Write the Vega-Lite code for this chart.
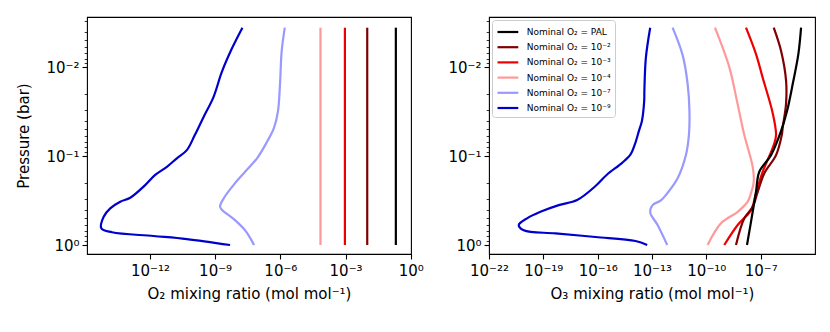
{
  "$schema": "https://vega.github.io/schema/vega-lite/v6.json",
  "background": "white",
  "padding": {"left": 16, "top": 13, "right": 5, "bottom": 5},
  "config": {
    "font": "DejaVu Sans",
    "view": {"stroke": "black", "strokeWidth": 1.1},
    "axis": {
      "domain": false, "grid": false, "tickColor": "black", "tickWidth": 1.1,
      "labelColor": "black", "titleColor": "black", "labelFontSize": 15, "titleFontSize": 15,
      "titleFontWeight": "normal", "labelFont": "DejaVu Sans", "titleFont": "DejaVu Sans",
      "labelOverlap": false, "labelFlush": false
    }
  },
  "datasets": {
    "o2": [
      {"s": "Nominal O₂ = 10⁻⁹", "i": 0, "p": 0.0036, "v": 1.80e-8},
      {"s": "Nominal O₂ = 10⁻⁹", "i": 1, "p": 0.00622, "v": 5.82e-9},
      {"s": "Nominal O₂ = 10⁻⁹", "i": 2, "p": 0.01138, "v": 2.02e-9},
      {"s": "Nominal O₂ = 10⁻⁹", "i": 3, "p": 0.0217, "v": 8.41e-10},
      {"s": "Nominal O₂ = 10⁻⁹", "i": 4, "p": 0.0365, "v": 2.92e-10},
      {"s": "Nominal O₂ = 10⁻⁹", "i": 5, "p": 0.0581, "v": 1.16e-10},
      {"s": "Nominal O₂ = 10⁻⁹", "i": 6, "p": 0.0857, "v": 5.0e-11},
      {"s": "Nominal O₂ = 10⁻⁹", "i": 7, "p": 0.106, "v": 1.74e-11},
      {"s": "Nominal O₂ = 10⁻⁹", "i": 8, "p": 0.132, "v": 6.04e-12},
      {"s": "Nominal O₂ = 10⁻⁹", "i": 9, "p": 0.163, "v": 1.75e-12},
      {"s": "Nominal O₂ = 10⁻⁹", "i": 10, "p": 0.212, "v": 6.08e-13},
      {"s": "Nominal O₂ = 10⁻⁹", "i": 11, "p": 0.294, "v": 1.25e-13},
      {"s": "Nominal O₂ = 10⁻⁹", "i": 12, "p": 0.326, "v": 4.33e-14},
      {"s": "Nominal O₂ = 10⁻⁹", "i": 13, "p": 0.387, "v": 1.50e-14},
      {"s": "Nominal O₂ = 10⁻⁹", "i": 14, "p": 0.481, "v": 7.48e-15},
      {"s": "Nominal O₂ = 10⁻⁹", "i": 15, "p": 0.649, "v": 5.81e-15},
      {"s": "Nominal O₂ = 10⁻⁹", "i": 16, "p": 0.719, "v": 1.80e-14},
      {"s": "Nominal O₂ = 10⁻⁹", "i": 17, "p": 0.792, "v": 1.48e-12},
      {"s": "Nominal O₂ = 10⁻⁹", "i": 18, "p": 0.857, "v": 5.0e-11},
      {"s": "Nominal O₂ = 10⁻⁹", "i": 19, "p": 1.0, "v": 4.86e-9},
      {"s": "Nominal O₂ = 10⁻⁷", "i": 0, "p": 0.0036, "v": 1.6e-6},
      {"s": "Nominal O₂ = 10⁻⁷", "i": 1, "p": 0.00661, "v": 1.15e-6},
      {"s": "Nominal O₂ = 10⁻⁷", "i": 2, "p": 0.01567, "v": 9.62e-7},
      {"s": "Nominal O₂ = 10⁻⁷", "i": 3, "p": 0.0312, "v": 7.78e-7},
      {"s": "Nominal O₂ = 10⁻⁷", "i": 4, "p": 0.0481, "v": 5.09e-7},
      {"s": "Nominal O₂ = 10⁻⁷", "i": 5, "p": 0.0678, "v": 2.54e-7},
      {"s": "Nominal O₂ = 10⁻⁷", "i": 6, "p": 0.1045, "v": 8.81e-8},
      {"s": "Nominal O₂ = 10⁻⁷", "i": 7, "p": 0.1475, "v": 2.56e-8},
      {"s": "Nominal O₂ = 10⁻⁷", "i": 8, "p": 0.208, "v": 7.43e-9},
      {"s": "Nominal O₂ = 10⁻⁷", "i": 9, "p": 0.294, "v": 2.58e-9},
      {"s": "Nominal O₂ = 10⁻⁷", "i": 10, "p": 0.365, "v": 1.69e-9},
      {"s": "Nominal O₂ = 10⁻⁷", "i": 11, "p": 0.397, "v": 1.96e-9},
      {"s": "Nominal O₂ = 10⁻⁷", "i": 12, "p": 0.514, "v": 7.43e-9},
      {"s": "Nominal O₂ = 10⁻⁷", "i": 13, "p": 0.697, "v": 2.56e-8},
      {"s": "Nominal O₂ = 10⁻⁷", "i": 14, "p": 1.0, "v": 6.15e-8},
      {"s": "Nominal O₂ = 10⁻⁴", "i": 0, "p": 0.0036, "v": 7.0e-5},
      {"s": "Nominal O₂ = 10⁻⁴", "i": 1, "p": 1.0, "v": 7.0e-5},
      {"s": "Nominal O₂ = 10⁻³", "i": 0, "p": 0.0036, "v": 9.3e-4},
      {"s": "Nominal O₂ = 10⁻³", "i": 1, "p": 1.0, "v": 9.3e-4},
      {"s": "Nominal O₂ = 10⁻²", "i": 0, "p": 0.0036, "v": 0.0099},
      {"s": "Nominal O₂ = 10⁻²", "i": 1, "p": 1.0, "v": 0.0099},
      {"s": "Nominal O₂ = PAL", "i": 0, "p": 0.0036, "v": 0.205},
      {"s": "Nominal O₂ = PAL", "i": 1, "p": 1.0, "v": 0.205}
    ],
    "o3": [
      {"s": "Nominal O₂ = 10⁻⁹", "i": 0, "p": 0.0036, "v": 7.94e-14},
      {"s": "Nominal O₂ = 10⁻⁹", "i": 1, "p": 0.00782, "v": 4.59e-14},
      {"s": "Nominal O₂ = 10⁻⁹", "i": 2, "p": 0.0186, "v": 3.79e-14},
      {"s": "Nominal O₂ = 10⁻⁹", "i": 3, "p": 0.0241, "v": 3.70e-14},
      {"s": "Nominal O₂ = 10⁻⁹", "i": 4, "p": 0.0405, "v": 2.76e-14},
      {"s": "Nominal O₂ = 10⁻⁹", "i": 5, "p": 0.0524, "v": 1.88e-14},
      {"s": "Nominal O₂ = 10⁻⁹", "i": 6, "p": 0.0740, "v": 1.13e-14},
      {"s": "Nominal O₂ = 10⁻⁹", "i": 7, "p": 0.0957, "v": 6.55e-15},
      {"s": "Nominal O₂ = 10⁻⁹", "i": 8, "p": 0.119, "v": 2.25e-15},
      {"s": "Nominal O₂ = 10⁻⁹", "i": 9, "p": 0.161, "v": 3.33e-16},
      {"s": "Nominal O₂ = 10⁻⁹", "i": 10, "p": 0.217, "v": 7.62e-17},
      {"s": "Nominal O₂ = 10⁻⁹", "i": 11, "p": 0.312, "v": 7.33e-18},
      {"s": "Nominal O₂ = 10⁻⁹", "i": 12, "p": 0.356, "v": 7.13e-19},
      {"s": "Nominal O₂ = 10⁻⁹", "i": 13, "p": 0.423, "v": 6.93e-20},
      {"s": "Nominal O₂ = 10⁻⁹", "i": 14, "p": 0.501, "v": 1.26e-20},
      {"s": "Nominal O₂ = 10⁻⁹", "i": 15, "p": 0.596, "v": 4.39e-21},
      {"s": "Nominal O₂ = 10⁻⁹", "i": 16, "p": 0.684, "v": 8.28e-21},
      {"s": "Nominal O₂ = 10⁻⁹", "i": 17, "p": 0.740, "v": 4.69e-19},
      {"s": "Nominal O₂ = 10⁻⁹", "i": 18, "p": 0.813, "v": 7.62e-17},
      {"s": "Nominal O₂ = 10⁻⁹", "i": 19, "p": 0.902, "v": 1.24e-14},
      {"s": "Nominal O₂ = 10⁻⁹", "i": 20, "p": 1.0, "v": 5.42e-14},
      {"s": "Nominal O₂ = 10⁻⁷", "i": 0, "p": 0.0036, "v": 1.37e-12},
      {"s": "Nominal O₂ = 10⁻⁷", "i": 1, "p": 0.00733, "v": 4.91e-12},
      {"s": "Nominal O₂ = 10⁻⁷", "i": 2, "p": 0.0154, "v": 9.27e-12},
      {"s": "Nominal O₂ = 10⁻⁷", "i": 3, "p": 0.0312, "v": 1.17e-11},
      {"s": "Nominal O₂ = 10⁻⁷", "i": 4, "p": 0.0581, "v": 1.09e-11},
      {"s": "Nominal O₂ = 10⁻⁷", "i": 5, "p": 0.0975, "v": 7.46e-12},
      {"s": "Nominal O₂ = 10⁻⁷", "i": 6, "p": 0.178, "v": 2.60e-12},
      {"s": "Nominal O₂ = 10⁻⁷", "i": 7, "p": 0.274, "v": 5.86e-13},
      {"s": "Nominal O₂ = 10⁻⁷", "i": 8, "p": 0.315, "v": 3.10e-13},
      {"s": "Nominal O₂ = 10⁻⁷", "i": 9, "p": 0.356, "v": 1.08e-13},
      {"s": "Nominal O₂ = 10⁻⁷", "i": 10, "p": 0.430, "v": 7.94e-14},
      {"s": "Nominal O₂ = 10⁻⁷", "i": 11, "p": 0.596, "v": 2.04e-13},
      {"s": "Nominal O₂ = 10⁻⁷", "i": 12, "p": 1.0, "v": 6.92e-13},
      {"s": "Nominal O₂ = 10⁻⁴", "i": 0, "p": 0.0036, "v": 3.00e-10},
      {"s": "Nominal O₂ = 10⁻⁴", "i": 1, "p": 0.01, "v": 1.85e-9},
      {"s": "Nominal O₂ = 10⁻⁴", "i": 2, "p": 0.0241, "v": 4.93e-9},
      {"s": "Nominal O₂ = 10⁻⁴", "i": 3, "p": 0.0581, "v": 1.25e-8},
      {"s": "Nominal O₂ = 10⁻⁴", "i": 4, "p": 0.132, "v": 3.63e-8},
      {"s": "Nominal O₂ = 10⁻⁴", "i": 5, "p": 0.195, "v": 4.13e-8},
      {"s": "Nominal O₂ = 10⁻⁴", "i": 6, "p": 0.261, "v": 2.93e-8},
      {"s": "Nominal O₂ = 10⁻⁴", "i": 7, "p": 0.326, "v": 1.92e-8},
      {"s": "Nominal O₂ = 10⁻⁴", "i": 8, "p": 0.423, "v": 5.38e-9},
      {"s": "Nominal O₂ = 10⁻⁴", "i": 9, "p": 0.570, "v": 6.43e-10},
      {"s": "Nominal O₂ = 10⁻⁴", "i": 10, "p": 1.0, "v": 1.18e-10},
      {"s": "Nominal O₂ = 10⁻³", "i": 0, "p": 0.0036, "v": 1.55e-8},
      {"s": "Nominal O₂ = 10⁻³", "i": 1, "p": 0.00714, "v": 5.53e-8},
      {"s": "Nominal O₂ = 10⁻³", "i": 2, "p": 0.0132, "v": 1.30e-7},
      {"s": "Nominal O₂ = 10⁻³", "i": 3, "p": 0.0329, "v": 4.63e-7},
      {"s": "Nominal O₂ = 10⁻³", "i": 4, "p": 0.0581, "v": 7.06e-7},
      {"s": "Nominal O₂ = 10⁻³", "i": 5, "p": 0.0752, "v": 5.26e-7},
      {"s": "Nominal O₂ = 10⁻³", "i": 6, "p": 0.150, "v": 1.30e-7},
      {"s": "Nominal O₂ = 10⁻³", "i": 7, "p": 0.262, "v": 5.53e-8},
      {"s": "Nominal O₂ = 10⁻³", "i": 8, "p": 0.405, "v": 2.93e-8},
      {"s": "Nominal O₂ = 10⁻³", "i": 9, "p": 0.596, "v": 5.38e-9},
      {"s": "Nominal O₂ = 10⁻³", "i": 10, "p": 1.0, "v": 9.79e-10},
      {"s": "Nominal O₂ = 10⁻²", "i": 0, "p": 0.0036, "v": 5.26e-7},
      {"s": "Nominal O₂ = 10⁻²", "i": 1, "p": 0.00653, "v": 1.33e-6},
      {"s": "Nominal O₂ = 10⁻²", "i": 2, "p": 0.0141, "v": 2.52e-6},
      {"s": "Nominal O₂ = 10⁻²", "i": 3, "p": 0.0258, "v": 2.52e-6},
      {"s": "Nominal O₂ = 10⁻²", "i": 4, "p": 0.0472, "v": 1.66e-6},
      {"s": "Nominal O₂ = 10⁻²", "i": 5, "p": 0.0581, "v": 1.46e-6},
      {"s": "Nominal O₂ = 10⁻²", "i": 6, "p": 0.0975, "v": 7.06e-7},
      {"s": "Nominal O₂ = 10⁻²", "i": 7, "p": 0.156, "v": 1.59e-7},
      {"s": "Nominal O₂ = 10⁻²", "i": 8, "p": 0.252, "v": 6.87e-8},
      {"s": "Nominal O₂ = 10⁻²", "i": 9, "p": 0.372, "v": 3.63e-8},
      {"s": "Nominal O₂ = 10⁻²", "i": 10, "p": 0.501, "v": 1.25e-8},
      {"s": "Nominal O₂ = 10⁻²", "i": 11, "p": 1.0, "v": 4.34e-9},
      {"s": "Nominal O₂ = PAL", "i": 0, "p": 0.0036, "v": 1.70e-5},
      {"s": "Nominal O₂ = PAL", "i": 1, "p": 0.0071, "v": 1.21e-5},
      {"s": "Nominal O₂ = PAL", "i": 2, "p": 0.0154, "v": 5.92e-6},
      {"s": "Nominal O₂ = PAL", "i": 3, "p": 0.0312, "v": 2.86e-6},
      {"s": "Nominal O₂ = PAL", "i": 4, "p": 0.0524, "v": 1.33e-6},
      {"s": "Nominal O₂ = PAL", "i": 5, "p": 0.0975, "v": 3.73e-7},
      {"s": "Nominal O₂ = PAL", "i": 6, "p": 0.150, "v": 8.41e-8},
      {"s": "Nominal O₂ = PAL", "i": 7, "p": 0.252, "v": 5.53e-8},
      {"s": "Nominal O₂ = PAL", "i": 8, "p": 0.423, "v": 3.63e-8},
      {"s": "Nominal O₂ = PAL", "i": 9, "p": 1.0, "v": 1.76e-8}
    ]
  },
  "spacing": 78,
  "bounds": "flush",
  "resolve": {"scale": {"color": "independent", "x": "independent", "y": "independent"}},
  "hconcat": [
    {
      "width": 324,
      "height": 237,
      "data": {"name": "o2"},
      "mark": {"type": "line", "strokeWidth": 2.2, "interpolate": "catmull-rom"},
      "encoding": {
        "x": {
          "field": "v", "type": "quantitative",
          "scale": {"type": "log", "domain": [1.28e-15, 1.02], "nice": false},
          "axis": {
            "values": [1e-12, 1e-9, 1e-6, 1e-3, 1],
            "labelExpr": "datum.value == 1e-12 ? '10⁻¹²' : datum.value == 1e-9 ? '10⁻⁹' : datum.value == 1e-6 ? '10⁻⁶' : datum.value == 1e-3 ? '10⁻³' : '10⁰'",
            "title": "O₂ mixing ratio (mol mol⁻¹)",
            "tickSize": 5, "labelPadding": 4, "titlePadding": 8
          }
        },
        "y": {
          "field": "p", "type": "quantitative",
          "scale": {"type": "log", "domain": [0.002729, 1.262], "reverse": true, "nice": false},
          "axis": {
            "values": [0.003, 0.004, 0.005, 0.006, 0.007, 0.008, 0.009, 0.01, 0.02, 0.03, 0.04, 0.05, 0.06, 0.07, 0.08, 0.09, 0.1, 0.2, 0.3, 0.4, 0.5, 0.6, 0.7, 0.8, 0.9, 1],
            "labelExpr": "datum.value == 0.01 ? '10⁻²' : datum.value == 0.1 ? '10⁻¹' : datum.value == 1 ? '10⁰' : ''",
            "tickSize": {"condition": {"test": "datum.value == 0.01 || datum.value == 0.1 || datum.value == 1", "value": 5}, "value": 2.8},
            "tickWidth": {"condition": {"test": "datum.value == 0.01 || datum.value == 0.1 || datum.value == 1", "value": 1.1}, "value": 0.8},
            "title": "Pressure (bar)",
            "labelPadding": 3, "titlePadding": 14
          }
        },
        "color": {
          "field": "s", "type": "nominal",
          "scale": {
            "domain": ["Nominal O₂ = PAL", "Nominal O₂ = 10⁻²", "Nominal O₂ = 10⁻³", "Nominal O₂ = 10⁻⁴", "Nominal O₂ = 10⁻⁷", "Nominal O₂ = 10⁻⁹"],
            "range": ["#000000", "#800000", "#ee0000", "#ff9999", "#9999ff", "#0000cc"]
          },
          "legend": null
        },
        "order": {"field": "i", "type": "quantitative"}
      }
    },
    {
      "width": 326,
      "height": 237,
      "data": {"name": "o3"},
      "mark": {"type": "line", "strokeWidth": 2.2, "interpolate": "catmull-rom"},
      "encoding": {
        "x": {
          "field": "v", "type": "quantitative",
          "scale": {"type": "log", "domain": [1e-22, 1e-4], "nice": false},
          "axis": {
            "values": [1e-22, 1e-19, 1e-16, 1e-13, 1e-10, 1e-7],
            "labelExpr": "datum.value == 1e-22 ? '10⁻²²' : datum.value == 1e-19 ? '10⁻¹⁹' : datum.value == 1e-16 ? '10⁻¹⁶' : datum.value == 1e-13 ? '10⁻¹³' : datum.value == 1e-10 ? '10⁻¹⁰' : '10⁻⁷'",
            "title": "O₃ mixing ratio (mol mol⁻¹)",
            "tickSize": 5, "labelPadding": 4, "titlePadding": 8
          }
        },
        "y": {
          "field": "p", "type": "quantitative",
          "scale": {"type": "log", "domain": [0.002729, 1.262], "reverse": true, "nice": false},
          "axis": {
            "values": [0.003, 0.004, 0.005, 0.006, 0.007, 0.008, 0.009, 0.01, 0.02, 0.03, 0.04, 0.05, 0.06, 0.07, 0.08, 0.09, 0.1, 0.2, 0.3, 0.4, 0.5, 0.6, 0.7, 0.8, 0.9, 1],
            "labelExpr": "datum.value == 0.01 ? '10⁻²' : datum.value == 0.1 ? '10⁻¹' : datum.value == 1 ? '10⁰' : ''",
            "tickSize": {"condition": {"test": "datum.value == 0.01 || datum.value == 0.1 || datum.value == 1", "value": 5}, "value": 2.8},
            "tickWidth": {"condition": {"test": "datum.value == 0.01 || datum.value == 0.1 || datum.value == 1", "value": 1.1}, "value": 0.8},
            "title": null,
            "labelPadding": 3
          }
        },
        "color": {
          "field": "s", "type": "nominal",
          "scale": {
            "domain": ["Nominal O₂ = PAL", "Nominal O₂ = 10⁻²", "Nominal O₂ = 10⁻³", "Nominal O₂ = 10⁻⁴", "Nominal O₂ = 10⁻⁷", "Nominal O₂ = 10⁻⁹"],
            "range": ["#000000", "#800000", "#ee0000", "#ff9999", "#9999ff", "#0000cc"]
          },
          "legend": {
            "orient": "top-left", "offset": 3, "title": null,
            "symbolType": "M-1,0H2.2", "symbolSize": 169, "symbolStrokeWidth": 2.2,
            "labelFontSize": 9, "labelFont": "DejaVu Sans", "labelColor": "black", "labelOffset": 14.8,
            "padding": 4, "rowPadding": 2.2,
            "strokeColor": "#cccccc", "fillColor": "rgba(255,255,255,0.8)", "cornerRadius": 3
          }
        },
        "order": {"field": "i", "type": "quantitative"}
      }
    }
  ]
}
